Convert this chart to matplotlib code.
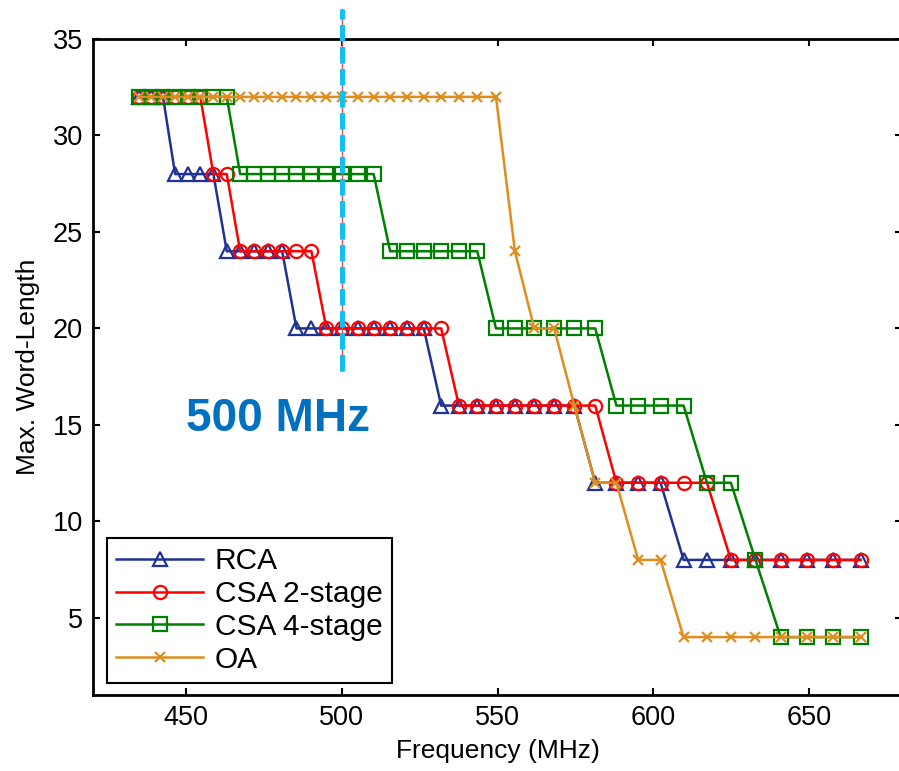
import matplotlib
matplotlib.use("Agg")
import matplotlib.pyplot as plt

plt.rcParams['font.family'] = ['Liberation Sans', 'DejaVu Sans']

# operating frequencies (MHz)
freq = [434.8, 438.6, 442.5, 446.4, 450.5, 454.5, 458.7, 463.0, 467.3, 471.7,
        476.2, 480.8, 485.4, 490.2, 495.0, 500.0, 505.1, 510.2, 515.5, 520.8,
        526.3, 531.9, 537.6, 543.5, 549.5, 555.6, 561.8, 568.2, 574.7, 581.4,
        588.2, 595.2, 602.4, 609.8, 617.3, 625.0, 632.9, 641.0, 649.4, 657.9,
        666.7]

rca = [32, 32, 32, 28, 28, 28, 28, 24, 24, 24, 24, 24, 20, 20, 20, 20, 20, 20, 20, 20,
       20, 16, 16, 16, 16, 16, 16, 16, 16, 12, 12, 12, 12, 8, 8, 8, 8, 8, 8, 8, 8]
csa2 = [32, 32, 32, 32, 32, 32, 28, 28, 24, 24, 24, 24, 24, 24, 20, 20, 20, 20, 20, 20,
        20, 20, 16, 16, 16, 16, 16, 16, 16, 16, 12, 12, 12, 12, 12, 8, 8, 8, 8, 8, 8]
csa4 = [32, 32, 32, 32, 32, 32, 32, 32, 28, 28, 28, 28, 28, 28, 28, 28, 28, 28, 24, 24,
        24, 24, 24, 24, 20, 20, 20, 20, 20, 20, 16, 16, 16, 16, 12, 12, 8, 4, 4, 4, 4]
oa = [32, 32, 32, 32, 32, 32, 32, 32, 32, 32, 32, 32, 32, 32, 32, 32, 32, 32, 32, 32,
      32, 32, 32, 32, 32, 24, 20, 20, 16, 12, 12, 8, 8, 4, 4, 4, 4, 4, 4, 4, 4]

SERIES = [
    ("RCA", rca, "#1f3296", "^"),
    ("CSA 2-stage", csa2, "#ff0000", "o"),
    ("CSA 4-stage", csa4, "#008000", "s"),
    ("OA", oa, "#df8d1e", "x"),
]

x_ticks = [450, 500, 550, 600, 650]
y_ticks = [5, 10, 15, 20, 25, 30, 35]
marked_freq = 500

fig = plt.figure(figsize=(8.99, 7.71), dpi=100)
ax = fig.add_axes([0.1034, 0.0986, 0.9, 0.8508])

for name, vals, col, mk in SERIES:
    ax.plot(freq, vals, color=col, marker=mk, markersize=9.5 if mk != "x" else 7.5,
            markerfacecolor="none", markeredgewidth=1.6, linewidth=1.8, label=name)

ax.set_xlim(420, 680)
ax.set_ylim(1, 35)
ax.set_xticks(x_ticks)
ax.set_yticks(y_ticks)
ax.tick_params(direction="in", length=5, width=1.5, top=True, right=True,
               labelsize=19.5, pad=7)
for s in ax.spines.values():
    s.set_linewidth(2)

ax.set_xlabel("Frequency (MHz)", fontsize=19, labelpad=6)
ax.set_ylabel("Max. Word-Length", fontsize=19, labelpad=9)

leg = ax.legend(loc="lower left", bbox_to_anchor=(0.017, 0.018), borderaxespad=0,
                fontsize=21.5, fancybox=False, edgecolor="black", framealpha=1,
                handlelength=2.9, borderpad=0.32, labelspacing=0.16,
                handletextpad=0.4)
leg.get_frame().set_linewidth(1.5)

# marker line at 500 MHz
ax.plot([marked_freq, marked_freq], [17.8, 36.55], color="#c05868", linewidth=1,
        clip_on=False, zorder=5)
ax.plot([marked_freq, marked_freq], [17.8, 36.55], color="#11c0f0", linewidth=3.6,
        linestyle=(0, (3.3, 1.1)), clip_on=False, zorder=6)
ax.text(0.309, 0.457, "500 MHz", transform=fig.transFigure, ha="center", va="center",
        fontsize=33, fontweight="bold", color="#0070c0")

fig.savefig("out.png", dpi=100)
